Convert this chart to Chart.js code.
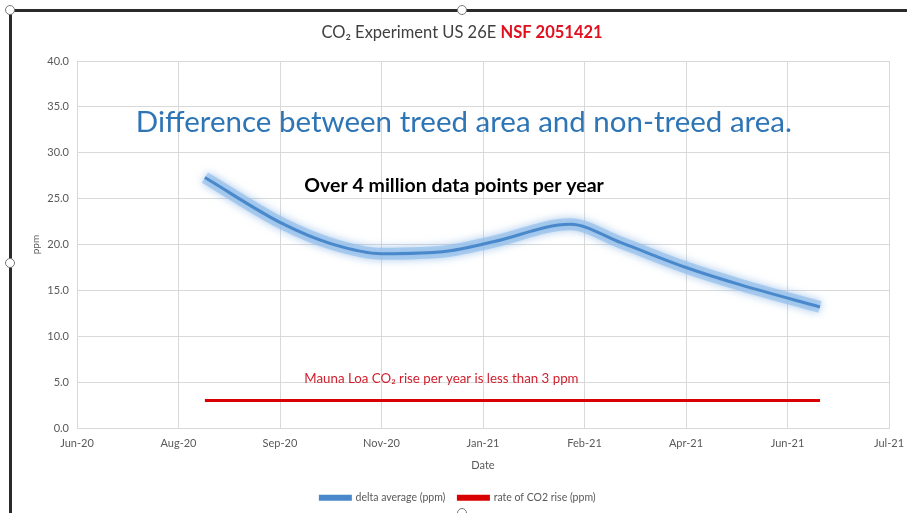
<!DOCTYPE html>
<html>
<head>
<meta charset="utf-8">
<script src="https://cdn.jsdelivr.net/npm/chart.js@4"></script>
<style>
  html, body { margin: 0; padding: 0; background: #fff; }
  #wrap { position: relative; width: 907px; height: 513px; overflow: hidden; }
  canvas { position: absolute; left: 0; top: 0; }
  .frame-top { position: absolute; left: 9px; top: 9px; width: 900px; height: 3px; background: #2b2b2b; }
  .frame-left { position: absolute; left: 9px; top: 9px; width: 3px; height: 510px; background: #2b2b2b; }
  .handle { position: absolute; width: 8px; height: 8px; border-radius: 50%; background: #fff; border: 1px solid #777; }
</style>
</head>
<body>
<div id="wrap">
  <canvas id="myChart" width="907" height="513"></canvas>
  <div class="frame-top"></div>
  <div class="frame-left"></div>
  <div class="handle" style="left:5px;top:5px"></div>
  <div class="handle" style="left:457px;top:5px"></div>
  <div class="handle" style="left:5px;top:258px"></div>
  <div class="handle" style="left:457px;top:508px"></div>
</div>
<script>
// x values are Excel date serials (44000 = 18 Jun 2020)
const deltaDates = [44063, 44101, 44125, 44150, 44183, 44205, 44243, 44268, 44300, 44327, 44366];
const deltaAvg   = [27.3, 22.3, 20.1, 19.0, 19.3, 20.3, 22.2, 20.2, 17.5, 15.6, 13.2];
const co2Dates = [44063, 44366];
const co2Rise  = [3.0, 3.0];

const xTickLabels = ['Jun-20', 'Aug-20', 'Sep-20', 'Nov-20', 'Jan-21', 'Feb-21', 'Apr-21', 'Jun-21', 'Jul-21'];
const xMin = 44000, xMax = 44400, xStep = 50;
const yMin = 0, yMax = 40, yStep = 5;

const toPoints = (xs, ys) => xs.map((x, i) => ({ x: x, y: ys[i] }));

const FONT = 'Lato, "Open Sans", sans-serif';
const GREY = '#595959';
const GRID = '#d9d9d9';

// text drawn over the plot, anchored to data coordinates
const notes = [
  { text: 'Difference between treed area and non-treed area.', x: 44029, y: 33.3, font: '29.5px ' + FONT, color: '#2e75b6' },
  { text: 'Over 4 million data points per year', x: 44112, y: 26.4, font: 'bold 19.5px ' + FONT, color: '#000' },
  { text: 'Mauna Loa CO\u2082 rise per year is less than 3 ppm', x: 44112, y: 5.4, font: '13.3px ' + FONT, color: '#d0202e' }
];

const glowPlugin = {
  id: 'glow',
  beforeDatasetDraw(chart, args) {
    if (args.index === 1) {
      chart.ctx.save();
      chart.ctx.shadowColor = 'rgba(120,170,225,0.9)';
      chart.ctx.shadowBlur = 9;
    }
  },
  afterDatasetDraw(chart, args) {
    if (args.index === 1) chart.ctx.restore();
  }
};

const textPlugin = {
  id: 'texts',
  afterDraw(chart) {
    const ctx = chart.ctx;
    const xs = chart.scales.x, ys = chart.scales.y;
    ctx.save();
    // title in two colours, centred on the chart box
    const t1 = 'CO\u2082 Experiment US 26E ';
    const t2 = 'NSF 2051421';
    ctx.textBaseline = 'middle';
    ctx.font = '16.5px ' + FONT;
    const w1 = ctx.measureText(t1).width;
    ctx.font = 'bold 16.5px ' + FONT;
    const w2 = ctx.measureText(t2).width;
    let sx = 462 - (w1 + w2) / 2;
    ctx.font = '16.5px ' + FONT;
    ctx.fillStyle = '#404040';
    ctx.fillText(t1, sx, 33);
    ctx.font = 'bold 16.5px ' + FONT;
    ctx.fillStyle = '#e0101e';
    ctx.fillText(t2, sx + w1, 33);

    notes.forEach(n => {
      ctx.font = n.font;
      ctx.fillStyle = n.color;
      ctx.fillText(n.text, xs.getPixelForValue(n.x), ys.getPixelForValue(n.y));
    });
    ctx.restore();
  }
};

const ctx = document.getElementById('myChart');

new Chart(ctx, {
  type: 'line',
  data: {
    datasets: [
      {
        label: 'delta average (ppm)',
        data: toPoints(deltaDates, deltaAvg),
        borderColor: '#4a88cc',
        backgroundColor: '#4a88cc',
        borderWidth: 3,
        pointRadius: 0,
        cubicInterpolationMode: 'monotone',
        order: 0
      },
      {
        label: 'glow',
        data: toPoints(deltaDates, deltaAvg),
        borderColor: 'rgba(150,192,235,0.7)',
        borderWidth: 12,
        pointRadius: 0,
        cubicInterpolationMode: 'monotone',
        order: 1
      },
      {
        label: 'rate of CO2 rise (ppm)',
        data: toPoints(co2Dates, co2Rise),
        borderColor: '#d80000',
        backgroundColor: '#d80000',
        borderWidth: 3,
        pointRadius: 0,
        order: 2
      }
    ]
  },
  options: {
    responsive: false,
    animation: false,
    layout: { padding: { left: 27, right: 18, top: 61, bottom: 0 } },
    plugins: {
      legend: {
        position: 'bottom',
        labels: {
          boxWidth: 30,
          boxHeight: 3,
          padding: 13,
          color: GREY,
          font: { family: FONT, size: 10.5 },
          filter: item => item.text !== 'glow'
        }
      },
      title: { display: false },
      tooltip: { enabled: false }
    },
    scales: {
      x: {
        type: 'linear',
        min: xMin,
        max: xMax,
        afterFit: s => { s.paddingLeft = 0; s.paddingRight = 0; },
        ticks: {
          stepSize: xStep,
          color: GREY,
          padding: 9,
          maxRotation: 0,
          font: { family: FONT, size: 11 },
          callback: v => xTickLabels[Math.round((v - xMin) / xStep)]
        },
        grid: { color: GRID, drawTicks: false },
        border: { color: GRID },
        title: {
          display: true,
          text: 'Date',
          color: GREY,
          font: { family: FONT, size: 11 },
          padding: { top: 0, bottom: 7 }
        }
      },
      y: {
        min: yMin,
        max: yMax,
        afterFit: s => { s.width = 50; },
        ticks: {
          stepSize: yStep,
          color: GREY,
          padding: 8,
          font: { family: FONT, size: 11 },
          callback: v => v.toFixed(1)
        },
        grid: { color: GRID, drawTicks: false },
        border: { color: GRID },
        title: {
          display: true,
          text: 'ppm',
          color: GREY,
          font: { family: FONT, size: 10 },
          padding: { top: 3, bottom: 0 }
        }
      }
    }
  },
  plugins: [glowPlugin, textPlugin]
});
</script>
</body>
</html>
